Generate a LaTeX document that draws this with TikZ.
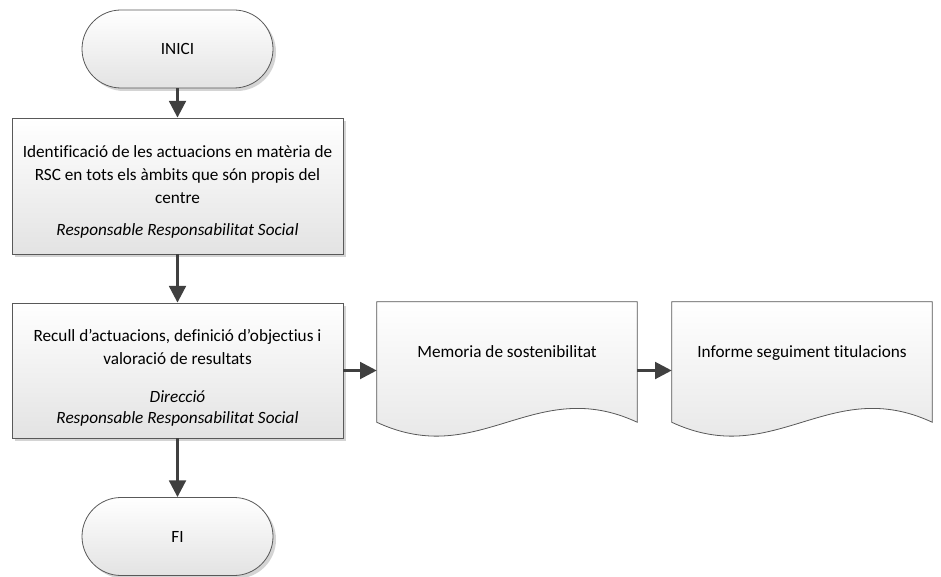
\documentclass[tikz,border=0pt]{standalone}
\usepackage{fontspec}
\setmainfont{Carlito}[Ligatures=NoCommon]
\usetikzlibrary{arrows.meta,shadows,backgrounds}

\newcommand\docpath[1]{(#1.north west) -- (#1.north east) -- (#1.south east)
  .. controls +(-103,-48) and +(103,48) .. (#1.south west) -- cycle}

\begin{document}
\begin{tikzpicture}[x=.75pt,y=-.75pt,font=\fontsize{12.9}{17.25}\selectfont,
  shade/.style={top color=white,bottom color=black!11},
  shadowed/.style={drop shadow={shadow xshift=2.25pt,shadow yshift=-2.25pt,fill=black!17,opacity=1}},
  term/.style={draw=black!65,line width=.6pt,rounded corners=29.25pt,minimum width=143.25pt,minimum height=58.5pt,shade,shadowed},
  proc/.style={draw=black!65,line width=.6pt,minimum width=248.25pt,align=center,shade,shadowed},
  docbox/.style={minimum width=195pt,minimum height=90pt,text depth=16pt},
  flow/.style={draw=black!75,line width=2.2pt,-{Triangle[length=12.5pt,width=12.5pt]}}]
\useasboundingbox (0,0) rectangle (941,577);
\node[term] (inici) at (177.5,49) {INICI};
\node[proc,minimum height=102pt] (ident) at (177.5,186) {\rule{0pt}{17.5pt}Identificació de les actuacions en matèria de\\RSC en tots els àmbits que són propis del\\centre\\[7pt]\textit{Responsable Responsabilitat Social}};
\node[proc,minimum height=101.25pt] (recull) at (177.5,370.5) {\rule{0pt}{20pt}Recull d’actuacions, definició d’objectius i\\valoració de resultats\\[11.5pt]\textit{Direcció}\\[-1.5pt]\textit{Responsable Responsabilitat Social}};
\node[term] (fi) at (177.5,536.5) {FI};
\node[docbox] (memoria) at (507,362) {Memoria de sostenibilitat};
\node[docbox] (informe) at (802,362) {Informe seguiment titulacions};
% document shapes behind their texts
\begin{scope}[on background layer]
\foreach \d in {memoria,informe}{
  \fill[black!17,shift={(3,3)}] \docpath{\d};
  \shade[shade,draw=black!65,line width=.6pt] \docpath{\d};
}
\end{scope}
\draw[flow] (inici) -- (ident);
\draw[flow] (ident) -- (recull);
\draw[flow] (recull) -- (fi);
\draw[flow] (recull.east) -- (recull.east -| memoria.west);
\draw[flow] (recull.east -| memoria.east) -- (recull.east -| informe.west);
\end{tikzpicture}
\end{document}
